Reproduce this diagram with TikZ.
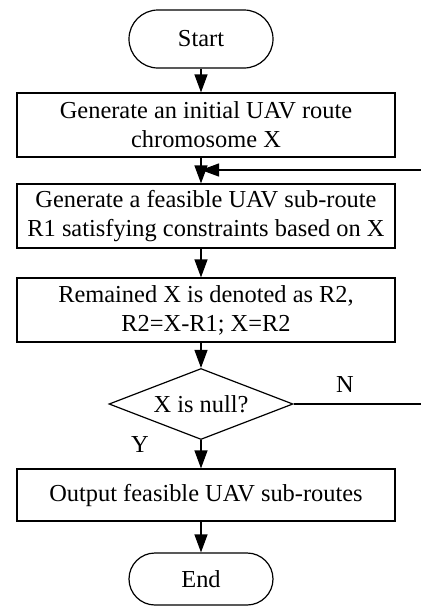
\documentclass[tikz,border=0pt]{standalone}
\usepackage{fontspec}
\setmainfont{Liberation Serif}
\usetikzlibrary{shapes.geometric,shapes.misc,arrows.meta}

\begin{document}
\begin{tikzpicture}[x=0.5pt,y=-0.5pt,
			font=\fontsize{12.2}{14.5}\selectfont,
			term/.style={rounded rectangle, draw, line width=0.6pt, minimum width=72pt, minimum height=29pt, inner sep=0pt},
			proc/.style={rectangle, draw, line width=0.6pt, minimum width=189pt, minimum height=32pt, inner sep=0pt, align=center},
			cond/.style={diamond, aspect=2.6, draw, line width=0.6pt, minimum width=92pt, minimum height=35.5pt, inner sep=0pt},
			flow/.style={line width=0.6pt, -{Triangle[length=9pt,width=6.5pt]}}]
			\useasboundingbox (0,0) rectangle (421,607);
			%---------------- BLOCKS ----------------
			\node[term] (start) at (201,39) {Start};
			\node[proc] (gen) at (206,125) {Generate an initial UAV route\\chromosome X};
			\node[proc] (sub) at (206,216) {Generate a feasible UAV sub-route\\R1 satisfying constraints based on X};
			\node[proc] (rem) at (206,310) {Remained X is denoted as R2,\\R2=X-R1; X=R2};
			\node[cond] (null) at (201,404) {X is null?};
			\node[proc, minimum height=26pt] (out) at (206,495) {Output feasible UAV sub-routes};
			\node[term, minimum height=26pt] (end) at (201,579) {End};
			%---------------- ARROWS ----------------
			\draw[flow] (start.south) -- (start.south |- gen.north);
			\draw[flow] (start.south |- gen.south) -- (start.south |- sub.north);
			\draw[flow] (start.south |- sub.south) -- (start.south |- rem.north);
			\draw[flow] (start.south |- rem.south) -- (null.north);
			\draw[flow] (null.south) -- (null.south |- out.north);
			\draw[flow] (start.south |- out.south) -- (end.north);
			%---------------- LOOP BACK ----------------
			\coordinate (back) at (424,170);
			\draw[flow] (null.east) -- (null.east -| back) -- (back) -- (back -| start.south);
			\node (no) at (345,385) {N};
			\node (yes) at (140,445) {Y};
		\end{tikzpicture}
\end{document}
